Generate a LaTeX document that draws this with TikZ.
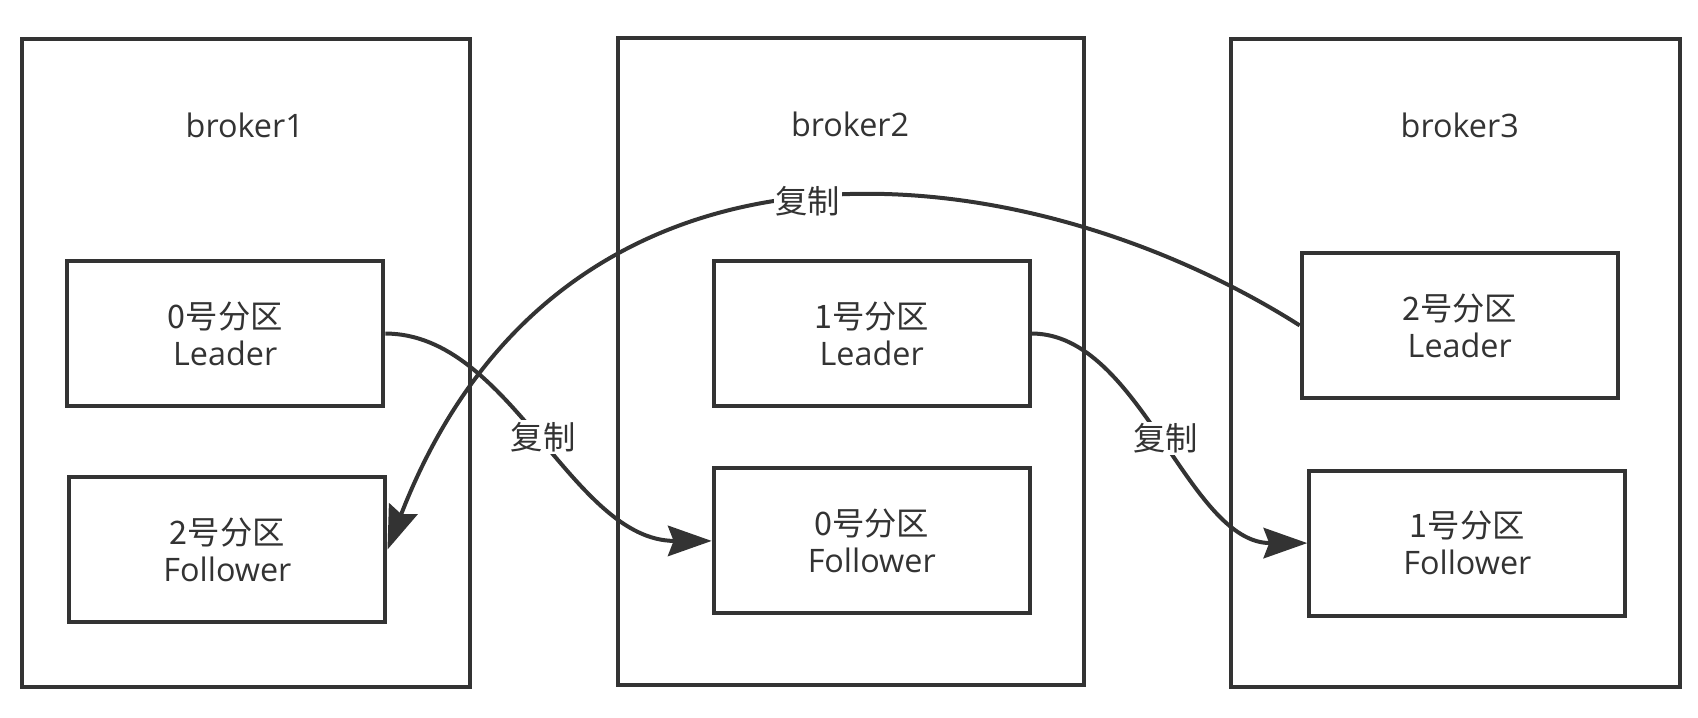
\documentclass[tikz,border=0pt]{standalone}
\usepackage{fontspec}
\setmainfont{Open Sans}
\newfontfamily\cjk{Noto Sans CJK SC}
\usepackage{xcolor}
\usetikzlibrary{arrows.meta}
\definecolor{linegray}{HTML}{333333}
\tikzset{
  broker/.style={draw=linegray, line width=2.1pt, minimum width=8.28cm, minimum height=11.96cm},
  brokername/.style={text=linegray, font=\fontsize{17}{20}\selectfont},
  part/.style={draw=linegray, line width=2.1pt, minimum width=5.84cm, minimum height=2.68cm,
    align=center, text=linegray, font=\fontsize{17}{19.5}\selectfont},
  copyline/.style={draw=linegray, line width=2.1pt, -{Stealth[length=23pt,width=16pt,inset=3pt]}},
  copylabel/.style={fill=white, text=linegray, inner sep=1pt, font=\cjk\fontsize{17}{20}\selectfont}
}
\begin{document}
\begin{tikzpicture}[x=0.02cm, y=-0.02cm]
  \useasboundingbox (0,0) rectangle (1568,663);
  % Brokers
  \node[broker] (broker1) at (227,335) {};
  \node[broker, minimum width=8.6cm] (broker2) at (786,334) {};
  \node[broker] (broker3) at (1344,335) {};
  \node[brokername] (name1) at (226,116) {broker1};
  \node[brokername] (name2) at (785,115) {broker2};
  \node[brokername] (name3) at (1348,116) {broker3};
  % Partitions on broker1
  \node[part] (b1lead) at (208,308) {{\cjk 0号分区}\\Leader};
  \node[part] (b1fol) at (210,507.5) {{\cjk 2号分区}\\Follower};
  % Partitions on broker2
  \node[part] (b2lead) at (805,308) {{\cjk 1号分区}\\Leader};
  \node[part] (b2fol) at (805,499.5) {{\cjk 0号分区}\\Follower};
  % Partitions on broker3
  \node[part] (b3lead) at (1348,300.5) {{\cjk 2号分区}\\Leader};
  \node[part] (b3fol) at (1355,501.5) {{\cjk 1号分区}\\Follower};
  % Replication leader -> follower
  \draw[copyline] (b1lead.east) .. controls +(116,0) and +(-129,0) .. (b2fol.west)
    node[copylabel, midway] {复制};
  \draw[copyline] (b2lead.east) .. controls +(100,0) and +(-110,0) .. (b3fol.west)
    node[copylabel, midway] {复制};
  \draw[copyline] (b3lead.west) .. controls +(-252,-160) and +(164,-423) .. (b1fol.east)
    node[copylabel, midway] {复制};
\end{tikzpicture}
\end{document}
